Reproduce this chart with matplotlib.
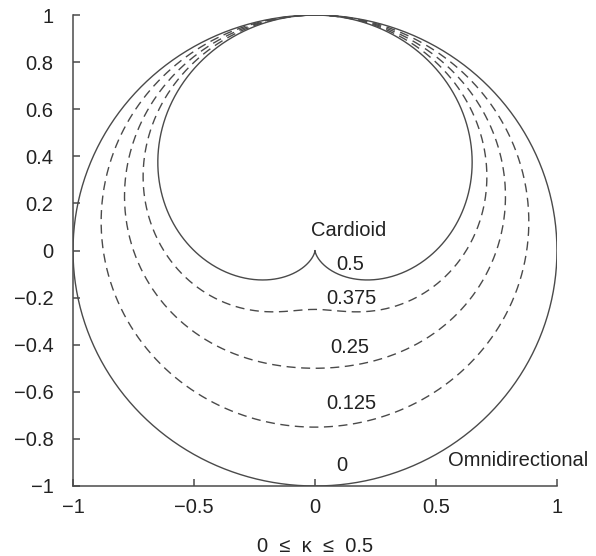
import numpy as np
import matplotlib.pyplot as plt

plt.rcParams['font.family'] = ['Liberation Sans', 'DejaVu Sans']

# 指向性参数 kappa: 0 = 全向, 0.5 = 心形
kappas = [0.0, 0.125, 0.25, 0.375, 0.5]
kappa_labels = ['0', '0.125', '0.25', '0.375', '0.5']
label_pos = [(0.11, -0.915), (0.15, -0.65), (0.145, -0.41), (0.15, -0.205), (0.145, -0.058)]
ticks = [-1, -0.5, 0, 0.5, 1]
yticks = [-1, -0.8, -0.6, -0.4, -0.2, 0, 0.2, 0.4, 0.6, 0.8, 1]

col = '#4a4a4a'
fs = 14.5

fig = plt.figure(figsize=(5.96, 5.56), dpi=100)
ax = fig.add_axes([0.1225, 0.1259, 0.812, 0.847])

theta = np.linspace(0, 2*np.pi, 721)
for k in kappas:
    r = (1 - k) + k*np.cos(theta)
    ls = '-' if k in (0.0, 0.5) else (0, (6.5, 4))
    ax.plot(r*np.sin(theta), r*np.cos(theta), color=col, lw=1.0, ls=ls)

for lab, (x, y) in zip(kappa_labels, label_pos):
    ax.text(x, y, lab, ha='center', va='center', fontsize=fs, color='#222222')
ax.text(0.14, 0.083, 'Cardioid', ha='center', va='center', fontsize=fs, color='#222222')
ax.text(0.84, -0.89, 'Omnidirectional', ha='center', va='center', fontsize=fs, color='#222222')

ax.set_xlim(-1, 1)
ax.set_ylim(-1, 1)
ax.set_xticks(ticks)
ax.set_xticklabels(['\u22121', '\u22120.5', '0', '0.5', '1'])
ax.set_yticks(yticks)
ax.set_yticklabels([('\u2212' + f'{abs(v):g}') if v < 0 else f'{v:g}' for v in yticks])
for s in ['top', 'right']:
    ax.spines[s].set_visible(False)
for s in ['left', 'bottom']:
    ax.spines[s].set_color(col)
    ax.spines[s].set_linewidth(1.1)
ax.tick_params(direction='in', length=5, width=1.1, color=col, labelsize=fs,
               labelcolor='#222222')
ax.tick_params(axis='y', pad=14)
ax.tick_params(axis='x', pad=9)
ax.set_xlabel('0  \u2264  \u03ba  \u2264  0.5', fontsize=fs, color='#222222', labelpad=14)

fig.savefig('out.png', dpi=100)
